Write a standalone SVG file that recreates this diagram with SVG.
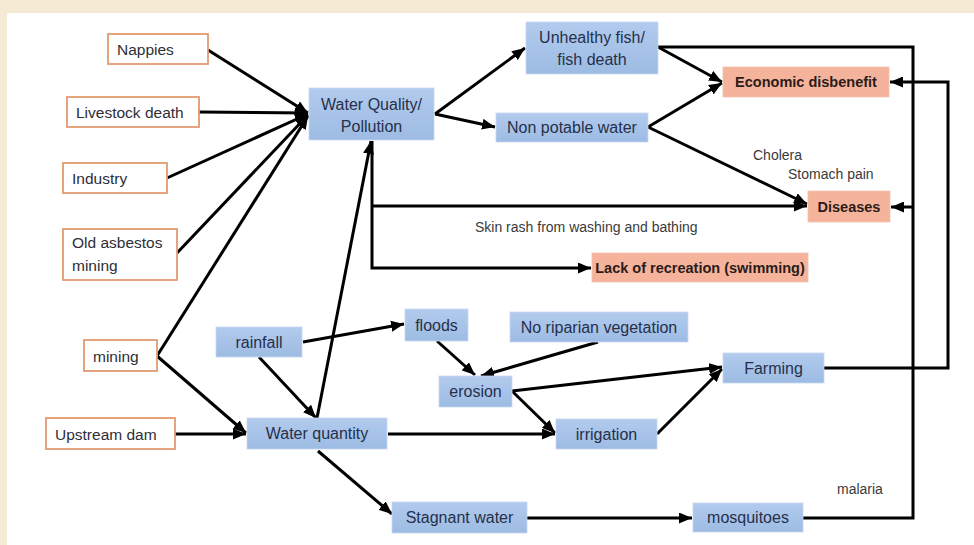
<svg xmlns="http://www.w3.org/2000/svg" width="974" height="545" viewBox="0 0 974 545">
  <defs>
    <linearGradient id="blueFill" x1="0" y1="0" x2="0" y2="1">
      <stop offset="0" stop-color="#b2cbee"/>
      <stop offset="1" stop-color="#9dbbe3"/>
    </linearGradient>
    <marker id="arrow" markerUnits="userSpaceOnUse" markerWidth="13" markerHeight="11" refX="13" refY="5.5" orient="auto">
      <path d="M0,0 L13,5.5 L0,11 z" fill="#000"/>
    </marker>
    <style>
      .src rect { fill: #fff; stroke: #e29c70; stroke-width: 1.8; }
      .blue rect { fill: url(#blueFill); stroke: #c8d8ee; stroke-width: 0.8; }
      .impact rect { fill: #f6b39b; stroke: #f1c2ae; stroke-width: 0.8; }
      text { font-family: "Liberation Sans", Arial, sans-serif; font-size: 15.5px; fill: #2e2e36; }
      .blue text { font-size: 16px; fill: #26304a; }
      .blue text, .impact text { text-anchor: middle; }
      .impact text { font-size: 14.5px; font-weight: bold; fill: #2a1c1a; }
      .note { font-size: 14px; fill: #3a3a3a; }
      #connectors path { fill: none; stroke: #000; stroke-width: 3; stroke-linejoin: miter; }
      #connectors .arr { marker-end: url(#arrow); }
    </style>
  </defs>

  <!-- page background and white panel -->
  <rect x="0" y="0" width="974" height="545" fill="#f5ead3"/>
  <rect x="7" y="13" width="967" height="532" fill="#fff"/>

  <!-- connectors -->
  <g id="connectors">
    <path class="arr" d="M208,50 L308,113"/>
    <path class="arr" d="M199,112 L308,113"/>
    <path class="arr" d="M167,178 L308,114"/>
    <path class="arr" d="M177,253 L308,115"/>
    <path class="arr" d="M157,356 L308,116"/>
    <path class="arr" d="M157,356 L246,433"/>
    <path class="arr" d="M175,434 L246,434"/>
    <path class="arr" d="M259,357 L316,418"/>
    <path class="arr" d="M317,418 L371,141"/>
    <path class="arr" d="M372,141 L372,268 L591,268"/>
    <path class="arr" d="M372,206 L807,206"/>
    <path class="arr" d="M435,114 L525,48"/>
    <path class="arr" d="M435,114 L495,127"/>
    <path class="arr" d="M658,47 L722,82"/>
    <path class="arr" d="M648,127 L722,83"/>
    <path class="arr" d="M648,127 L807,204"/>
    <path d="M658,47 L913,47 L913,518 L803,518"/>
    <path class="arr" d="M913,207 L891,207"/>
    <path class="arr" d="M824,368 L948,368 L948,82 L890,82"/>
    <path class="arr" d="M303,342 L404,324"/>
    <path class="arr" d="M437,341 L475,375"/>
    <path class="arr" d="M598,342 L481,376"/>
    <path class="arr" d="M512,391 L722,367"/>
    <path class="arr" d="M512,391 L555,433"/>
    <path class="arr" d="M388,434 L555,434"/>
    <path class="arr" d="M657,434 L722,369"/>
    <path class="arr" d="M318,451 L392,514"/>
    <path class="arr" d="M527,518 L692,518"/>
  </g>

  <!-- source nodes -->
  <g id="nappies" class="src"><rect x="108" y="34" width="100" height="30"/><text x="117" y="55">Nappies</text></g>
  <g id="livestock-death" class="src"><rect x="67" y="97" width="132" height="30"/><text x="76" y="118">Livestock death</text></g>
  <g id="industry" class="src"><rect x="63" y="163" width="104" height="30"/><text x="72" y="184">Industry</text></g>
  <g id="old-asbestos-mining" class="src"><rect x="63" y="229" width="114" height="51"/><text x="72" y="248">Old asbestos</text><text x="72" y="271">mining</text></g>
  <g id="mining" class="src"><rect x="84" y="340" width="73" height="31"/><text x="93" y="362">mining</text></g>
  <g id="upstream-dam" class="src"><rect x="46" y="418" width="129" height="31"/><text x="55" y="440">Upstream dam</text></g>

  <!-- process nodes -->
  <g id="water-quality" class="blue"><rect x="309" y="88" width="125" height="52"/><text x="371.5" y="110">Water Quality/</text><text x="371.5" y="132">Pollution</text></g>
  <g id="unhealthy-fish" class="blue"><rect x="526" y="22" width="132" height="52"/><text x="592" y="43">Unhealthy fish/</text><text x="592" y="65">fish death</text></g>
  <g id="non-potable-water" class="blue"><rect x="496" y="113" width="152" height="29"/><text x="572" y="133">Non potable water</text></g>
  <g id="rainfall" class="blue"><rect x="216" y="327" width="86" height="30"/><text x="259" y="348">rainfall</text></g>
  <g id="floods" class="blue"><rect x="405" y="309" width="63" height="32"/><text x="436.5" y="331">floods</text></g>
  <g id="no-riparian-vegetation" class="blue"><rect x="510" y="312" width="178" height="30"/><text x="599" y="333">No riparian vegetation</text></g>
  <g id="erosion" class="blue"><rect x="439" y="376" width="73" height="31"/><text x="475.5" y="397">erosion</text></g>
  <g id="farming" class="blue"><rect x="723" y="353" width="101" height="30"/><text x="773.5" y="374">Farming</text></g>
  <g id="water-quantity" class="blue"><rect x="247" y="418" width="140" height="31"/><text x="317" y="439">Water quantity</text></g>
  <g id="irrigation" class="blue"><rect x="556" y="419" width="101" height="30"/><text x="606.5" y="440">irrigation</text></g>
  <g id="stagnant-water" class="blue"><rect x="392" y="502" width="135" height="31"/><text x="459.5" y="523">Stagnant water</text></g>
  <g id="mosquitoes" class="blue"><rect x="693" y="503" width="110" height="29"/><text x="748" y="523">mosquitoes</text></g>

  <!-- impact nodes -->
  <g id="economic-disbenefit" class="impact"><rect x="723" y="67" width="166" height="30"/><text x="806" y="87">Economic disbenefit</text></g>
  <g id="diseases" class="impact"><rect x="808" y="191" width="82" height="31"/><text x="849" y="212">Diseases</text></g>
  <g id="lack-of-recreation" class="impact"><rect x="592" y="253" width="216" height="29"/><text x="700" y="273">Lack of recreation (swimming)</text></g>

  <!-- free-standing labels -->
  <g id="labels">
    <text class="note" x="753" y="160">Cholera</text>
    <text class="note" x="788" y="179">Stomach pain</text>
    <text class="note" x="475" y="232">Skin rash from washing and bathing</text>
    <text class="note" x="837" y="494">malaria</text>
  </g>
</svg>
